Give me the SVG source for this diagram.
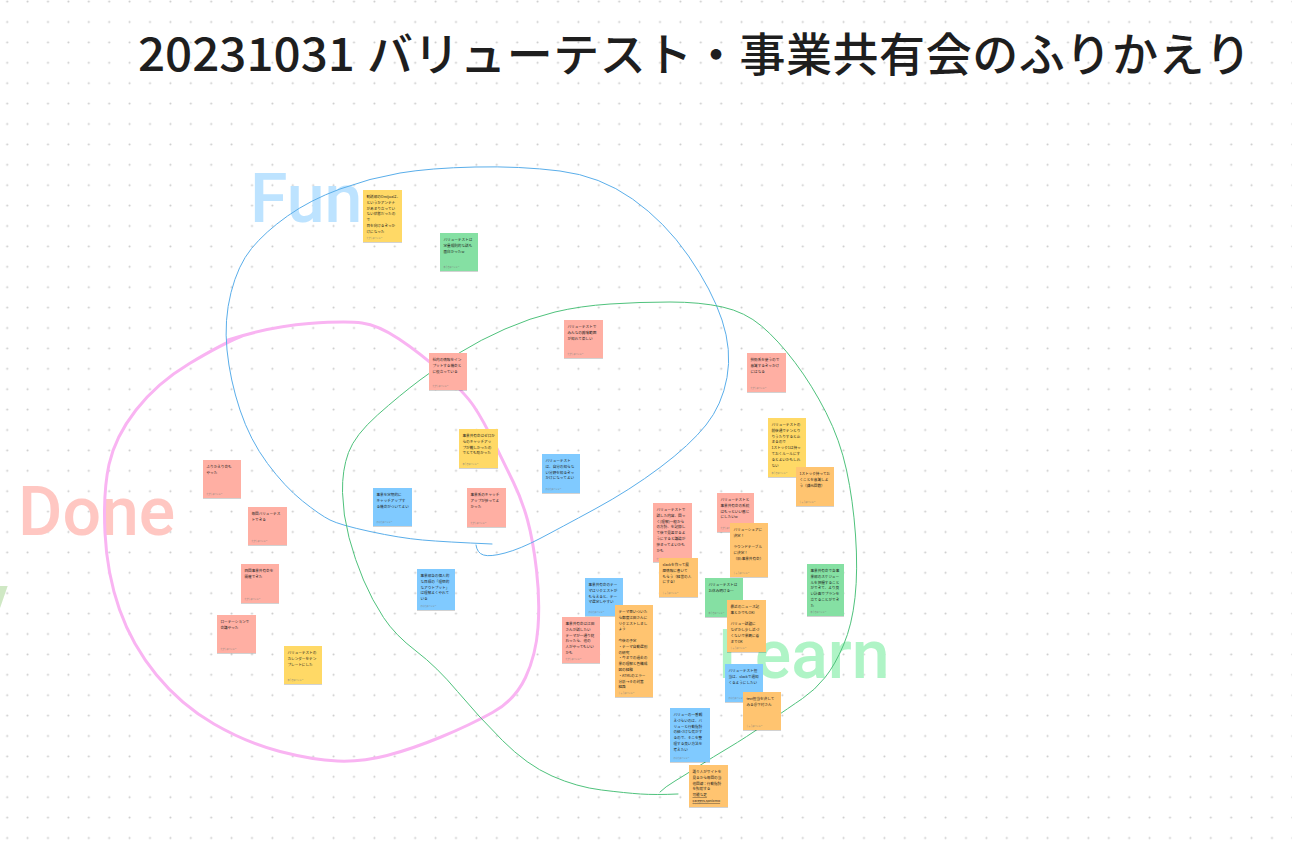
<svg xmlns="http://www.w3.org/2000/svg" width="1292" height="856" viewBox="0 0 1292 856">
<defs>
<pattern id="dots" x="-3" y="-8.6" width="20.4" height="20.4" patternUnits="userSpaceOnUse"><circle cx="10.2" cy="10.2" r="1" fill="#c9c9c9"/></pattern>
<filter id="sh" x="-20%" y="-20%" width="140%" height="140%"><feDropShadow dx="0" dy="0.8" stdDeviation="0.6" flood-color="#000" flood-opacity="0.22"/></filter>
<style>
.t{font-family:"Noto Sans CJK JP","Noto Sans",sans-serif;font-size:3.6px;fill:#1e1e1e}
.f{font-family:"Noto Sans CJK JP","Noto Sans",sans-serif;font-size:2px;fill:#7a7a7a}
.sal{fill:#ffafa3;filter:url(#sh)}
.yel{fill:#ffd966;filter:url(#sh)}
.grn{fill:#85e0a3;filter:url(#sh)}
.blu{fill:#80caff;filter:url(#sh)}
.org{fill:#ffc470;filter:url(#sh)}
.big{font-family:Roboto,"Liberation Sans",sans-serif;font-size:68px;font-weight:500}
.ttl{font-family:"Noto Sans CJK JP","Noto Sans",sans-serif;font-size:46px;font-weight:500;fill:#1e1e1e}
</style>
</defs>
<rect width="1292" height="856" fill="#ffffff"/>
<rect width="1292" height="856" fill="url(#dots)"/>

<g id="title">
<text class="ttl" x="138" y="71" textLength="217" lengthAdjust="spacingAndGlyphs">20231031</text>
<text class="ttl" x="367" y="71" textLength="884">バリューテスト・事業共有会のふりかえり</text>
</g>

<g id="labels">
<text class="big" x="250" y="222" fill="#bde3ff">Fun</text>
<text class="big" x="18" y="535" fill="#ffc7c2">Done</text>
<text class="big" x="718" y="678" fill="#aff4c6">Learn</text>
<text class="big" x="8" y="622" fill="#cfe8c4" text-anchor="end">Joy</text>
</g>

<g id="connectors" fill="none" stroke-linecap="round" stroke-linejoin="round">
<path id="loop-done" stroke="#f9b4f2" stroke-width="3" d="M228 340 Q272 326 309 323.5 Q346 321 362 323 Q378 325 399 339 Q420 353 442.5 373 Q465 393 474 406.5 Q483 420 494 442.5 Q505 465 513.5 482.5 Q522 500 527.5 520 Q533 540 536.5 570 Q540 600 538 627.5 Q536 655 525.5 677.5 Q515 700 492.5 712.5 Q470 725 441 737 Q412 749 387 755.5 Q362 762 337.5 761 Q313 760 280 751.5 Q247 743 214 724 Q181 705 156.5 675 Q132 645 119.5 609.5 Q107 574 105 533 Q103 492 109 464.5 Q115 437 136 410 Q157 383 189.5 363.5 Q222 344 242 336"/>
<path id="loop-fun" stroke="#5aaeea" stroke-width="1" d="M492 544 Q445 542 422.5 540 Q400 538 370 531.5 Q340 525 330 520 Q320 515 302.5 501 Q285 487 267.5 463.5 Q250 440 240 410 Q230 380 227 350 Q224 320 231 292.5 Q238 265 251.5 248.5 Q265 232 287.5 216 Q310 200 340 189 Q370 178 400 173 Q430 168 475 167 Q520 166 560 171 Q600 176 632.5 199 Q665 222 688.5 256 Q712 290 722 320 Q732 350 727 377.5 Q722 405 706 425 Q690 445 660 467.5 Q630 490 595 509 Q560 528 540 538.5 Q520 549 505 553 Q490 557 483.5 555 Q477 553 476 545"/>
<path id="loop-learn" stroke="#4fc27c" stroke-width="1" d="M678 794 Q655 795 640.5 794 Q626 793 601.5 790 Q577 787 552 776 Q527 765 502.5 740.5 Q478 716 457.5 691.5 Q437 667 416 651 Q395 635 383.5 617.5 Q372 600 363.5 580 Q355 560 349 537.5 Q343 515 342.5 492.5 Q342 470 348.5 452.5 Q355 435 377.5 415 Q400 395 420 380 Q440 365 460 352.5 Q480 340 505 329 Q530 318 555 312 Q580 306 610 304 Q640 302 670 302 Q700 302 722.5 307 Q745 312 761.5 326 Q778 340 795 362.5 Q812 385 826 412.5 Q840 440 846.5 470 Q853 500 855.5 535 Q858 570 855 597.5 Q852 625 843.5 645 Q835 665 825 677.5 Q815 690 802.5 698.5 Q790 707 767.5 722.5 Q745 738 729 747.5 Q713 757 699 766 Q685 775 675 781 Q665 787 660 792"/>
</g>

<g id="n01"><rect class="yel" x="363" y="190" width="39" height="52"/><text class="t" x="366.5" y="198"><tspan x="366.5">勧誘部のOmijuaは、</tspan><tspan x="366.5" dy="5.8">というかアンテナ</tspan><tspan x="366.5" dy="5.8">があまり立ってい</tspan><tspan x="366.5" dy="5.8">ない状態だったの</tspan><tspan x="366.5" dy="5.8">で</tspan><tspan x="366.5" dy="5.8">目を向けるきっか</tspan><tspan x="366.5" dy="5.8">けになった</tspan></text><text class="f" x="366.5" y="239">たかし@バリュー</text></g>
<g id="n02"><rect class="grn" x="440" y="233" width="38" height="38"/><text class="t" x="443.5" y="241"><tspan x="443.5">バリューテストは</tspan><tspan x="443.5" dy="5.8">定量規則的な話も</tspan><tspan x="443.5" dy="5.8">面白かったw</tspan></text><text class="f" x="443.5" y="268">ゆうき@バリュー</text></g>
<g id="n03"><rect class="sal" x="429" y="353" width="38" height="37"/><text class="t" x="432.5" y="361"><tspan x="432.5">社内の情報をイン</tspan><tspan x="432.5" dy="5.8">プットする機会と</tspan><tspan x="432.5" dy="5.8">に役立っている</tspan></text><text class="f" x="432.5" y="387">たかし@バリュー</text></g>
<g id="n04"><rect class="sal" x="564" y="320" width="39" height="38"/><text class="t" x="567.5" y="328"><tspan x="567.5">バリューテストで</tspan><tspan x="567.5" dy="5.8">みんなの興味範囲</tspan><tspan x="567.5" dy="5.8">が知れて楽しい</tspan></text><text class="f" x="567.5" y="355">たかし@バリュー</text></g>
<g id="n05"><rect class="sal" x="747" y="353" width="39" height="39"/><text class="t" x="750.5" y="361"><tspan x="750.5">技術系を使うので</tspan><tspan x="750.5" dy="5.8">意識するきっかけ</tspan><tspan x="750.5" dy="5.8">にはなる</tspan></text><text class="f" x="750.5" y="389">たかし@バリュー</text></g>
<g id="n06"><rect class="yel" x="459" y="429" width="39" height="39"/><text class="t" x="462.5" y="437"><tspan x="462.5">事業共有会はゼロか</tspan><tspan x="462.5" dy="5.8">らのキャッチアッ</tspan><tspan x="462.5" dy="5.8">プが難しかったの</tspan><tspan x="462.5" dy="5.8">でとても助かった</tspan></text><text class="f" x="462.5" y="465">ゆうき@バリュー</text></g>
<g id="n07"><rect class="blu" x="542" y="454" width="38" height="39"/><text class="t" x="545.5" y="462"><tspan x="545.5">バリューテスト</tspan><tspan x="545.5" dy="5.8">は、自分の知らな</tspan><tspan x="545.5" dy="5.8">い分野を知るきっ</tspan><tspan x="545.5" dy="5.8">かけになってよい</tspan></text><text class="f" x="545.5" y="490">けんた@バリュー</text></g>
<g id="n08"><rect class="sal" x="467" y="488" width="39" height="39"/><text class="t" x="470.5" y="496"><tspan x="470.5">事業系のキャッチ</tspan><tspan x="470.5" dy="5.8">アップが捗ってよ</tspan><tspan x="470.5" dy="5.8">かった</tspan></text><text class="f" x="470.5" y="524">たかし@バリュー</text></g>
<g id="n09"><rect class="blu" x="373" y="488" width="39" height="38"/><text class="t" x="376.5" y="496"><tspan x="376.5">事業を定期的に</tspan><tspan x="376.5" dy="5.8">キャッチアップす</tspan><tspan x="376.5" dy="5.8">る機会がついてよい</tspan></text><text class="f" x="376.5" y="523">けんた@バリュー</text></g>
<g id="n10"><rect class="blu" x="417" y="569" width="38" height="41"/><text class="t" x="420.5" y="577"><tspan x="420.5">事業部各の個人的</tspan><tspan x="420.5" dy="5.8">な目標の「理想的</tspan><tspan x="420.5" dy="5.8">なアウトプット」</tspan><tspan x="420.5" dy="5.8">は理解よくやれて</tspan><tspan x="420.5" dy="5.8">いる</tspan></text><text class="f" x="420.5" y="607">けんた@バリュー</text></g>
<g id="n11"><rect class="sal" x="203" y="460" width="38" height="38"/><text class="t" x="206.5" y="468"><tspan x="206.5">ふりかえり会も</tspan><tspan x="206.5" dy="5.8">やった</tspan></text><text class="f" x="206.5" y="495">たかし@バリュー</text></g>
<g id="n12"><rect class="sal" x="248" y="507" width="39" height="38"/><text class="t" x="251.5" y="515"><tspan x="251.5">毎回バリューテス</tspan><tspan x="251.5" dy="5.8">トできる</tspan></text><text class="f" x="251.5" y="542">たかし@バリュー</text></g>
<g id="n13"><rect class="sal" x="241" y="564" width="38" height="39"/><text class="t" x="244.5" y="572"><tspan x="244.5">四回事業共有会を</tspan><tspan x="244.5" dy="5.8">開催できた</tspan></text><text class="f" x="244.5" y="600">たかし@バリュー</text></g>
<g id="n14"><rect class="sal" x="217" y="615" width="39" height="38"/><text class="t" x="220.5" y="623"><tspan x="220.5">ローテーションで</tspan><tspan x="220.5" dy="5.8">会議やった</tspan></text><text class="f" x="220.5" y="650">たかし@バリュー</text></g>
<g id="n15"><rect class="yel" x="284" y="646" width="38" height="38"/><text class="t" x="287.5" y="654"><tspan x="287.5">バリューテストの</tspan><tspan x="287.5" dy="5.8">カレンダーをテン</tspan><tspan x="287.5" dy="5.8">プレートにした</tspan></text><text class="f" x="287.5" y="681">ゆうき@バリュー</text></g>
<g id="n16"><rect class="yel" x="768" y="418" width="38" height="59"/><text class="t" x="771.5" y="426"><tspan x="771.5">バリューテストの</tspan><tspan x="771.5" dy="5.8">前後通でテンとり</tspan><tspan x="771.5" dy="5.8">りうたりすると止</tspan><tspan x="771.5" dy="5.8">まるので</tspan><tspan x="771.5" dy="5.8">1ストック1は持っ</tspan><tspan x="771.5" dy="5.8">ておくルールにす</tspan><tspan x="771.5" dy="5.8">るとよいかもしれ</tspan><tspan x="771.5" dy="5.8">ない</tspan></text><text class="f" x="771.5" y="474">ゆうき@バリュー</text></g>
<g id="n17"><rect class="org" x="796" y="467" width="38" height="39"/><text class="t" x="799.5" y="475"><tspan x="799.5">1ストック持ってお</tspan><tspan x="799.5" dy="5.8">くことを意識しよ</tspan><tspan x="799.5" dy="5.8">う（鎌元回数）</tspan></text><text class="f" x="799.5" y="503">しょう@バリュー</text></g>
<g id="n18"><rect class="sal" x="717" y="493" width="37" height="39"/><text class="t" x="720.5" y="501"><tspan x="720.5">バリューテストと</tspan><tspan x="720.5" dy="5.8">事業共有会の系統</tspan><tspan x="720.5" dy="5.8">はもっといい感じ</tspan><tspan x="720.5" dy="5.8">にしたいw</tspan></text><text class="f" x="720.5" y="529">たかし@バリュー</text></g>
<g id="n19"><rect class="sal" x="653" y="503" width="39" height="59"/><text class="t" x="656.5" y="511"><tspan x="656.5">バリューテストで</tspan><tspan x="656.5" dy="5.8">話した内容、回っ</tspan><tspan x="656.5" dy="5.8">く(理解)一般から</tspan><tspan x="656.5" dy="5.8">の方針、を記録し</tspan><tspan x="656.5" dy="5.8">て後で見返せるよ</tspan><tspan x="656.5" dy="5.8">うにすると議論が</tspan><tspan x="656.5" dy="5.8">捗まってよいかも</tspan><tspan x="656.5" dy="5.8">かも</tspan></text><text class="f" x="656.5" y="559.5">たかし@バリュー</text></g>
<g id="n20"><rect class="org" x="730" y="523" width="38" height="54"/><text class="t" x="733.5" y="531"><tspan x="733.5">バリューシェアに</tspan><tspan x="733.5" dy="5.8">決定！</tspan><tspan x="733.5" dy="11.6">ラウンドテーブル</tspan><tspan x="733.5" dy="5.8">に決定！</tspan><tspan x="733.5" dy="5.8">（旧:事業共有会）</tspan></text><text class="f" x="733.5" y="574">しょう@バリュー</text></g>
<g id="n21"><rect class="org" x="659" y="558" width="39" height="39"/><text class="t" x="662.5" y="566"><tspan x="662.5">slackを作って履</tspan><tspan x="662.5" dy="5.8">歴情報に書いて</tspan><tspan x="662.5" dy="5.8">もらう（経営の人</tspan><tspan x="662.5" dy="5.8">にする）</tspan></text><text class="f" x="662.5" y="594">しょう@バリュー</text></g>
<g id="n22"><rect class="grn" x="705" y="578" width="38" height="39"/><text class="t" x="708.5" y="586"><tspan x="708.5">バリューテストは</tspan><tspan x="708.5" dy="5.8">お休み明ける…</tspan></text><text class="f" x="708.5" y="614">ゆうき@バリュー</text></g>
<g id="n23"><rect class="grn" x="807" y="564" width="37" height="52"/><text class="t" x="810.5" y="572"><tspan x="810.5">事業共有会で各事</tspan><tspan x="810.5" dy="5.8">業部のスケジュー</tspan><tspan x="810.5" dy="5.8">ルを把握すること</tspan><tspan x="810.5" dy="5.8">ができて、より良</tspan><tspan x="810.5" dy="5.8">い計画でプランを</tspan><tspan x="810.5" dy="5.8">立てることができ</tspan><tspan x="810.5" dy="5.8">た</tspan></text><text class="f" x="810.5" y="613">ゆうき@バリュー</text></g>
<g id="n24"><rect class="blu" x="585" y="578" width="38" height="38"/><text class="t" x="588.5" y="586"><tspan x="588.5">事業共有会のテー</tspan><tspan x="588.5" dy="5.8">マはリクエストが</tspan><tspan x="588.5" dy="5.8">もらえると、テー</tspan><tspan x="588.5" dy="5.8">マ選定しやすい</tspan></text><text class="f" x="588.5" y="613">けんた@バリュー</text></g>
<g id="n25"><rect class="sal" x="562" y="617" width="38" height="46"/><text class="t" x="565.5" y="625"><tspan x="565.5">事業共有会は江田</tspan><tspan x="565.5" dy="5.8">さんが話したい</tspan><tspan x="565.5" dy="5.8">テーマが一通り終</tspan><tspan x="565.5" dy="5.8">わったら、他の</tspan><tspan x="565.5" dy="5.8">人がやってもいい</tspan><tspan x="565.5" dy="5.8">かも</tspan></text><text class="f" x="565.5" y="660">たかし@バリュー</text></g>
<g id="n26"><rect class="org" x="615" y="605" width="38" height="92"/><text class="t" x="618.5" y="613"><tspan x="618.5">テーマ思いついた</tspan><tspan x="618.5" dy="5.8">ら都度江田さんに</tspan><tspan x="618.5" dy="5.8">リクエストしまし</tspan><tspan x="618.5" dy="5.8">ょう</tspan><tspan x="618.5" dy="11.6">今後の予定</tspan><tspan x="618.5" dy="5.8">・テーマ自動選別</tspan><tspan x="618.5" dy="5.8">の研究</tspan><tspan x="618.5" dy="5.8">・今までの過去の</tspan><tspan x="618.5" dy="5.8">業の理解と色構成</tspan><tspan x="618.5" dy="5.8">図の経験</tspan><tspan x="618.5" dy="5.8">・ATMLのエラー</tspan><tspan x="618.5" dy="5.8">分析→その対策</tspan><tspan x="618.5" dy="5.8">経路</tspan></text><text class="f" x="618.5" y="694">しょう@バリュー</text></g>
<g id="n27"><rect class="org" x="727" y="600" width="39" height="52"/><text class="t" x="730.5" y="608"><tspan x="730.5">最近のニュース記</tspan><tspan x="730.5" dy="5.8">事とかでもOK!</tspan><tspan x="730.5" dy="11.6">バリュー話題に</tspan><tspan x="730.5" dy="5.8">なぜかし少し近づ</tspan><tspan x="730.5" dy="5.8">くないで業概に着</tspan><tspan x="730.5" dy="5.8">までOK</tspan></text><text class="f" x="730.5" y="649">しょう@バリュー</text></g>
<g id="n28"><rect class="blu" x="725" y="664" width="38" height="38"/><text class="t" x="728.5" y="672"><tspan x="728.5">バリューテスト担</tspan><tspan x="728.5" dy="5.8">当は、slackで週知</tspan><tspan x="728.5" dy="5.8">くるようにしたい</tspan></text><text class="f" x="728.5" y="699">けんた@バリュー</text></g>
<g id="n29"><rect class="org" x="743" y="692" width="38" height="38"/><text class="t" x="746.5" y="700"><tspan x="746.5">text担当を決して</tspan><tspan x="746.5" dy="5.8">みる＠下村さん</tspan></text><text class="f" x="746.5" y="727">しょう@バリュー</text></g>
<g id="n30"><rect class="blu" x="670" y="708" width="40" height="54"/><text class="t" x="673.5" y="716"><tspan x="673.5">バリューの一番観</tspan><tspan x="673.5" dy="5.8">えづらいのは、バ</tspan><tspan x="673.5" dy="5.8">リューと行動指針</tspan><tspan x="673.5" dy="5.8">の紐づけな気がす</tspan><tspan x="673.5" dy="5.8">るので、そこを整</tspan><tspan x="673.5" dy="5.8">理する良い方法を</tspan><tspan x="673.5" dy="5.8">考えたい</tspan></text><text class="f" x="673.5" y="759">けんた@バリュー</text></g>
<g id="n31"><rect class="org" x="689" y="765" width="39" height="42"/><text class="t" x="692.5" y="773"><tspan x="692.5">誰々人がサイトを</tspan><tspan x="692.5" dy="5.8">見るから毎回の当</tspan><tspan x="692.5" dy="5.8">他回線：行動指針</tspan><tspan x="692.5" dy="5.8">を照射する</tspan><tspan x="692.5" dy="5.8" text-decoration="underline">可能な足</tspan><tspan x="692.5" dy="5.8" text-decoration="underline">careers.sonicmo</tspan></text><text class="f" x="692.5" y="804">しょう@バリュー</text></g>
</svg>
